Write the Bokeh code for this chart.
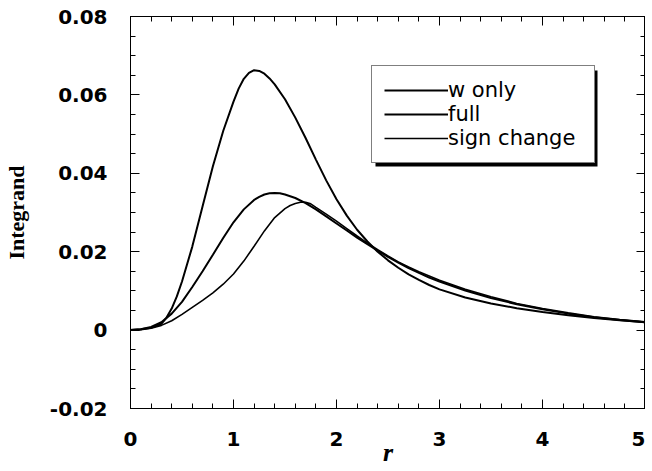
import numpy as np
from bokeh.plotting import figure
from bokeh.models import (ColumnDataSource, FixedTicker, LinearAxis, Legend,
                          LegendItem, Range1d, BoxAnnotation)
from bokeh.embed import file_html
from bokeh.resources import INLINE

# ---- data ----
r_w = [0.0, 0.1, 0.2, 0.3, 0.35, 0.4, 0.45, 0.5, 0.6, 0.7, 0.8, 0.9,
       1.0, 1.05, 1.1, 1.15, 1.2, 1.25, 1.3, 1.35, 1.4, 1.5, 1.6, 1.7, 1.8, 1.9,
       2.0, 2.1, 2.2, 2.3, 2.4, 2.5, 2.6, 2.7, 2.8, 2.9,
       3.0, 3.25, 3.5, 3.75, 4.0, 4.25, 4.5, 4.75, 5.0]
w_only = [0.0, 0.0002, 0.0006, 0.0016, 0.0032, 0.0055, 0.0086, 0.0124, 0.0213, 0.0316, 0.0418, 0.0508,
          0.0583, 0.0616, 0.0641, 0.0656, 0.0663, 0.0661, 0.0654, 0.0642, 0.0627, 0.0589, 0.0542, 0.0490, 0.0435, 0.0382,
          0.0334, 0.0292, 0.0256, 0.0226, 0.0200, 0.0178, 0.0159, 0.0142, 0.0128, 0.0115,
          0.0104, 0.0083, 0.0068, 0.0056, 0.0046, 0.0038, 0.0031, 0.0025, 0.0020]

r_f = [0.0, 0.1, 0.2, 0.3, 0.4, 0.5, 0.6, 0.7, 0.8, 0.9,
       1.0, 1.1, 1.2, 1.25, 1.3, 1.35, 1.4, 1.45, 1.5, 1.6, 1.7, 1.8, 1.9,
       2.0, 2.1, 2.2, 2.3, 2.4, 2.5, 2.6, 2.7, 2.8, 2.9,
       3.0, 3.25, 3.5, 3.75, 4.0, 4.25, 4.5, 4.75, 5.0]
full = [0.0, 0.0002, 0.0008, 0.0020, 0.0042, 0.0072, 0.0110, 0.0150, 0.0192, 0.0235,
        0.0275, 0.0308, 0.0332, 0.0340, 0.0346, 0.0349, 0.0350, 0.0349, 0.0346, 0.0337, 0.0324, 0.0308, 0.0290,
        0.0272, 0.0254, 0.0236, 0.0219, 0.0203, 0.0187, 0.0172, 0.0158, 0.0146, 0.0134,
        0.0124, 0.0101, 0.0082, 0.0066, 0.0053, 0.0042, 0.0033, 0.0026, 0.0020]

r_s = [0.0, 0.1, 0.2, 0.3, 0.4, 0.5, 0.6, 0.7, 0.8, 0.9,
       1.0, 1.1, 1.2, 1.3, 1.4, 1.5, 1.55, 1.6, 1.65, 1.7, 1.75, 1.8, 1.9,
       2.0, 2.1, 2.2, 2.3, 2.4, 2.5, 2.6, 2.7, 2.8, 2.9,
       3.0, 3.25, 3.5, 3.75, 4.0, 4.25, 4.5, 4.75, 5.0]
sign_change = [0.0, 0.0001, 0.0005, 0.0012, 0.0024, 0.0040, 0.0058, 0.0076, 0.0095, 0.0117,
               0.0143, 0.0176, 0.0214, 0.0253, 0.0287, 0.0310, 0.0318, 0.0323, 0.0326, 0.0326, 0.0322, 0.0313, 0.0296,
               0.0278, 0.0259, 0.0240, 0.0222, 0.0205, 0.0189, 0.0174, 0.0161, 0.0149, 0.0138,
               0.0127, 0.0104, 0.0085, 0.0068, 0.0055, 0.0044, 0.0034, 0.0027, 0.0021]

series_labels = ["w only", "full", "sign change"]

x_ticks = [0, 1, 2, 3, 4, 5]
x_tick_labels = ["0", "1", "2", "3", "4", "5"]
y_ticks = [-0.02, 0.0, 0.02, 0.04, 0.06, 0.08]
y_tick_labels = ["-0.02", "0", "0.02", "0.04", "0.06", "0.08"]

x_minor = [round(v, 2) for v in np.arange(0, 5.0001, 0.2)]
y_minor = [round(v, 3) for v in np.arange(-0.02, 0.08001, 0.005)]

src_w = ColumnDataSource(dict(r=r_w, v=w_only))
src_f = ColumnDataSource(dict(r=r_f, v=full))
src_s = ColumnDataSource(dict(r=r_s, v=sign_change))

p = figure(frame_width=515, frame_height=392,
           x_range=Range1d(0, 5), y_range=Range1d(-0.02, 0.08),
           output_backend="svg", toolbar_location=None,
           min_border_left=129, min_border_top=16, min_border_bottom=40,
           min_border_right=0, x_axis_location=None, y_axis_location=None)
p.background_fill_color = "white"
p.border_fill_color = "white"
p.outline_line_color = "black"
p.outline_line_width = 1
p.xgrid.visible = False
p.ygrid.visible = False

tick_font = "DejaVu Sans"


def style_axis(ax, ticks, minor, labels, show_labels):
    ax.ticker = FixedTicker(ticks=ticks, minor_ticks=minor)
    ax.axis_line_color = "black"
    ax.axis_line_width = 1
    ax.major_tick_in = 9
    ax.major_tick_out = 0
    ax.minor_tick_in = 5
    ax.minor_tick_out = 0
    ax.major_tick_line_color = "black"
    ax.minor_tick_line_color = "black"
    if show_labels:
        ax.major_label_overrides = {t: l for t, l in zip(ticks, labels)}
        ax.major_label_text_font = tick_font
        ax.major_label_text_font_style = "bold"
        ax.major_label_text_font_size = "20px"
        ax.major_label_text_color = "black"
    else:
        ax.major_label_overrides = {t: "" for t in ticks}
        ax.major_label_standoff = 0


xb = LinearAxis()
style_axis(xb, x_ticks, x_minor, x_tick_labels, True)
xb.major_label_standoff = 23
xb.axis_label = "r"
xb.axis_label_text_font = "Liberation Serif"
xb.axis_label_text_font_style = "bold italic"
xb.axis_label_text_font_size = "26px"
xb.axis_label_text_color = "black"
xb.axis_label_standoff = -11
p.add_layout(xb, "below")

yl = LinearAxis()
style_axis(yl, y_ticks, y_minor, y_tick_labels, True)
yl.major_label_standoff = 23
yl.axis_label = "Integrand"
yl.axis_label_text_font = "Liberation Serif"
yl.axis_label_text_font_style = "bold"
yl.axis_label_text_font_size = "22px"
yl.axis_label_text_color = "black"
yl.axis_label_standoff = 18
p.add_layout(yl, "left")

xt = LinearAxis()
style_axis(xt, x_ticks, x_minor, x_tick_labels, False)
p.add_layout(xt, "above")

yr = LinearAxis()
style_axis(yr, y_ticks, y_minor, y_tick_labels, False)
p.add_layout(yr, "right")

r1 = p.line("r", "v", source=src_w, line_color="black", line_width=2)
r2 = p.line("r", "v", source=src_f, line_color="black", line_width=2)
r3 = p.line("r", "v", source=src_s, line_color="black", line_width=1.6)

# legend drop shadow (screen units, relative to the frame's bottom-left)
shadow = BoxAnnotation(left=245, right=467, top=338, bottom=242,
                       left_units="screen", right_units="screen",
                       top_units="screen", bottom_units="screen",
                       fill_color="black", fill_alpha=1.0, line_color=None)
p.add_layout(shadow)

legend = Legend(items=[LegendItem(label=series_labels[0], renderers=[r1]),
                       LegendItem(label=series_labels[1], renderers=[r2]),
                       LegendItem(label=series_labels[2], renderers=[r3])],
                location=(241, 245), padding=12, spacing=-4,
                glyph_width=64, glyph_height=20, label_height=20,
                label_standoff=0, label_width=134, margin=0,
                label_text_font=tick_font, label_text_font_size="21px",
                label_text_color="black",
                border_line_color="black", border_line_width=1.2,
                background_fill_color="white", background_fill_alpha=1.0)
p.add_layout(legend, "center")

open("out.html", "w").write(file_html(p, INLINE))
